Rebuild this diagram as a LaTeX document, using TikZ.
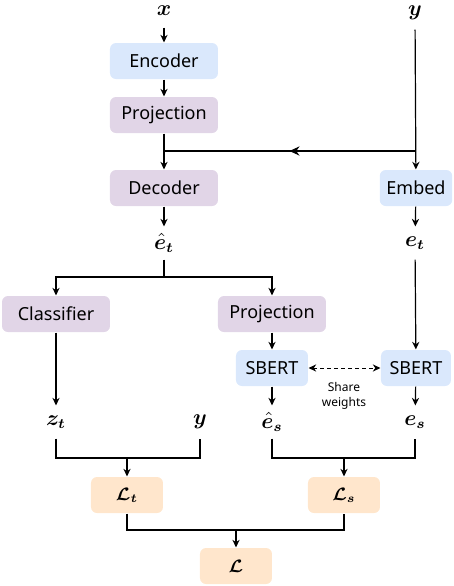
\documentclass[tikz,border=0pt]{standalone}
\usepackage{amsmath}
\usepackage{bm}
\usepackage{fontspec}
\setmainfont{Noto Sans}
\usetikzlibrary{arrows.meta,decorations.markings}

\definecolor{encblue}{HTML}{DAE8FC}
\definecolor{projpurple}{HTML}{E1D5E7}
\definecolor{lossorange}{HTML}{FFE6CC}

\begin{document}
\begin{tikzpicture}[x=0.5pt,y=-0.5pt,line width=0.6pt,>={Stealth[length=3.8pt,width=3.6pt]},
    midarrow/.style={postaction={decorate},decoration={markings,mark=at position 0.5 with {\arrow{Stealth[length=5pt,width=4.6pt]}}}}]
    \useasboundingbox (0,0) rectangle (454,586);

    \begin{scope}[every node/.style={rectangle,rounded corners=3pt,minimum width=54pt,minimum height=18pt,font=\fontsize{9}{10}\selectfont}]
        \node[fill=encblue] (enc) at (164,61) {Encoder};
        \node[fill=projpurple] (proj) at (164,115) {Projection};
        \node[fill=projpurple] (dec) at (164,188) {Decoder};
        \node[fill=encblue,minimum width=35pt] (emb) at (416,188) {Embed};
        \node[fill=projpurple] (cls) at (56,314) {Classifier};
        \node[fill=projpurple] (proj2) at (272,314) {Projection};
        \node[fill=encblue,minimum width=36pt] (sb1) at (272,368) {SBERT};
        \node[fill=encblue,minimum width=35pt] (sb2) at (416,368) {SBERT};
        \node[fill=lossorange,minimum width=36pt] (lt) at (127,495) {$\bm{\mathcal{L}_t}$};
        \node[fill=lossorange,minimum width=36pt] (ls) at (344,495) {$\bm{\mathcal{L}_s}$};
        \node[fill=lossorange,minimum width=36pt] (loss) at (236,566) {$\bm{\mathcal{L}}$};
    \end{scope}

    \begin{scope}[every node/.style={minimum height=16pt,inner sep=0pt,font=\fontsize{10.5}{12}\selectfont}]
        \node (x) at (164,11) {$\bm{x}$};
        \node (y) at (415,13) {$\bm{y}$};
        \node (ethat) at (164,243) {$\bm{\hat{e}_t}$};
        \node (et) at (415,243) {$\bm{e_t}$};
        \node (zt) at (56,422) {$\bm{z_t}$};
        \node (ylab) at (200,422) {$\bm{y}$};
        \node (eshat) at (272,422) {$\bm{\hat{e}_s}$};
        \node (es) at (415,422) {$\bm{e_s}$};
    \end{scope}

    \node[align=center,inner sep=0pt,font=\fontsize{6}{7.5}\selectfont] (share) at (344,396) {Share\\weights};

    \coordinate (ysplit) at (415,151);
    \coordinate (dsplit) at (164,151);
    \coordinate (etjoin) at (164,277);
    \coordinate (tjoin) at (127,458);
    \coordinate (sjoin) at (344,458);
    \coordinate (ljoin) at (236,530);

    % top half
    \draw[->] (x) -- (enc);
    \draw[->] (enc) -- (proj);
    \draw[->] (proj) -- (dec);
    \draw[->] (y) -- (emb);
    \draw[midarrow] (ysplit) -- (dsplit);
    \draw[->] (dec) -- (ethat);
    \draw[->] (emb) -- (et);

    % branches
    \draw (ethat) -- (etjoin);
    \draw[->] (etjoin) -| (cls);
    \draw[->] (etjoin) -| (proj2);
    \draw[->] (cls) -- (zt);
    \draw[->] (proj2) -- (sb1);
    \draw[->] (et) -- (sb2);
    \draw[->] (sb1) -- (eshat);
    \draw[->] (sb2) -- (es);
    \draw[<->,line width=0.5pt,dash pattern=on 2pt off 1.5pt] (sb1) -- (sb2);

    % losses
    \draw (zt) |- (tjoin) -| (ylab);
    \draw[->] (tjoin) -- (lt);
    \draw (eshat) |- (sjoin) -| (es);
    \draw[->] (sjoin) -- (ls);
    \draw (lt) |- (ljoin) -| (ls);
    \draw[->] (ljoin) -- (loss);
\end{tikzpicture}
\end{document}
